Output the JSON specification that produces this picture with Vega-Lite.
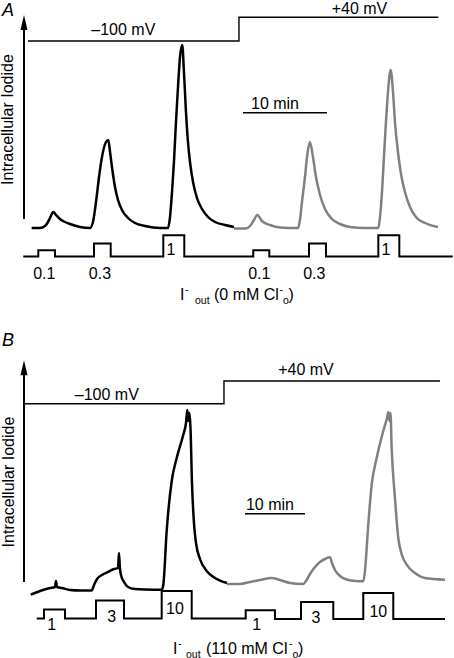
{
  "$schema": "https://vega.github.io/schema/vega-lite/v6.json",
  "padding": 0,
  "spacing": 0,
  "background": "white",
  "config": {"view": {"stroke": null}, "font": "Liberation Sans", "text": {"font": "Liberation Sans", "color": "black"}},
  "vconcat": [
    {
      "width": 454,
      "height": 329,
      "encoding": {
        "x": {"field": "t", "type": "quantitative", "scale": {"domain": [0, 54.05], "nice": false, "zero": false}, "axis": null},
        "y": {"field": "v", "type": "quantitative", "scale": {"domain": [0, 329], "nice": false, "zero": false}, "axis": null}
      },
      "layer": [
        {
          "data": {"values": [{"t": 2.857, "v": 112, "v2": 301}]},
          "mark": {"type": "rule", "color": "black", "strokeWidth": 2},
          "encoding": {"y2": {"field": "v2"}}
        },
        {
          "data": {"values": [{"t": 2.857, "v": 308.5}]},
          "mark": {"type": "point", "shape": "M0,-1L-0.47,1L0.47,1Z", "size": 225, "filled": true, "color": "black", "opacity": 1, "strokeWidth": 0},
          "encoding": {}
        },
        {
          "data": {"values": [{"t": 3.33, "v": 290}, {"t": 28.45, "v": 313.7}, {"t": 52.18, "v": 313.7}]},
          "mark": {"type": "line", "interpolate": "step-after", "color": "black", "strokeWidth": 1.4},
          "encoding": {}
        },
        {
          "data": {"values": [
            {"t": 2.77, "v": 74.5}, {"t": 4.56, "v": 80.7}, {"t": 6.55, "v": 74.5},
            {"t": 11.19, "v": 87.5}, {"t": 13.18, "v": 74.5}, {"t": 19.44, "v": 95.7},
            {"t": 21.94, "v": 74.5}, {"t": 30.15, "v": 80.7}, {"t": 32.06, "v": 74.5},
            {"t": 36.79, "v": 87.5}, {"t": 38.81, "v": 74.5}, {"t": 45.04, "v": 95.7},
            {"t": 47.54, "v": 74.5}, {"t": 53.9, "v": 74.5}
          ]},
          "mark": {"type": "line", "interpolate": "step-after", "color": "black", "strokeWidth": 2},
          "encoding": {}
        },
        {
          "data": {"values": [
            {"t": 3.77, "v": 103, "s": "-100 mV"}, {"t": 4.76, "v": 103, "s": "-100 mV"}, {"t": 5.36, "v": 105, "s": "-100 mV"},
            {"t": 5.71, "v": 109, "s": "-100 mV"}, {"t": 5.95, "v": 113, "s": "-100 mV"}, {"t": 6.35, "v": 119, "s": "-100 mV"},
            {"t": 6.67, "v": 116, "s": "-100 mV"}, {"t": 7.14, "v": 112, "s": "-100 mV"}, {"t": 7.74, "v": 109, "s": "-100 mV"},
            {"t": 8.33, "v": 107, "s": "-100 mV"}, {"t": 9.52, "v": 104, "s": "-100 mV"}, {"t": 10.71, "v": 103, "s": "-100 mV"},
            {"t": 11.07, "v": 109, "s": "-100 mV"}, {"t": 11.43, "v": 129, "s": "-100 mV"}, {"t": 11.79, "v": 154, "s": "-100 mV"},
            {"t": 12.14, "v": 174, "s": "-100 mV"}, {"t": 12.62, "v": 189, "s": "-100 mV"}, {"t": 12.89, "v": 191, "s": "-100 mV"},
            {"t": 13.1, "v": 179, "s": "-100 mV"}, {"t": 13.33, "v": 164, "s": "-100 mV"}, {"t": 13.69, "v": 144, "s": "-100 mV"},
            {"t": 14.05, "v": 131, "s": "-100 mV"}, {"t": 14.52, "v": 121, "s": "-100 mV"}, {"t": 15.24, "v": 113, "s": "-100 mV"},
            {"t": 16.07, "v": 108, "s": "-100 mV"}, {"t": 17.26, "v": 105, "s": "-100 mV"}, {"t": 19.05, "v": 103, "s": "-100 mV"},
            {"t": 20.0, "v": 103, "s": "-100 mV"}, {"t": 20.24, "v": 114, "s": "-100 mV"}, {"t": 20.48, "v": 139, "s": "-100 mV"},
            {"t": 20.71, "v": 169, "s": "-100 mV"}, {"t": 20.95, "v": 209, "s": "-100 mV"}, {"t": 21.19, "v": 244, "s": "-100 mV"},
            {"t": 21.43, "v": 274, "s": "-100 mV"}, {"t": 21.7, "v": 286, "s": "-100 mV"}, {"t": 21.9, "v": 259, "s": "-100 mV"},
            {"t": 22.14, "v": 219, "s": "-100 mV"}, {"t": 22.38, "v": 189, "s": "-100 mV"}, {"t": 22.62, "v": 169, "s": "-100 mV"},
            {"t": 22.98, "v": 149, "s": "-100 mV"}, {"t": 23.45, "v": 133, "s": "-100 mV"}, {"t": 24.05, "v": 122, "s": "-100 mV"},
            {"t": 24.76, "v": 114, "s": "-100 mV"}, {"t": 25.6, "v": 109, "s": "-100 mV"}, {"t": 26.79, "v": 106, "s": "-100 mV"},
            {"t": 27.86, "v": 104, "s": "-100 mV"},
            {"t": 27.86, "v": 102.5, "s": "+40 mV"}, {"t": 29.29, "v": 102.5, "s": "+40 mV"}, {"t": 29.76, "v": 105, "s": "+40 mV"},
            {"t": 30.24, "v": 111, "s": "+40 mV"}, {"t": 30.63, "v": 116, "s": "+40 mV"}, {"t": 31.19, "v": 110, "s": "+40 mV"},
            {"t": 32.14, "v": 106, "s": "+40 mV"}, {"t": 33.33, "v": 103.5, "s": "+40 mV"}, {"t": 35.48, "v": 103, "s": "+40 mV"},
            {"t": 35.71, "v": 111, "s": "+40 mV"}, {"t": 35.95, "v": 129, "s": "+40 mV"}, {"t": 36.31, "v": 154, "s": "+40 mV"},
            {"t": 36.55, "v": 174, "s": "+40 mV"}, {"t": 36.9, "v": 189, "s": "+40 mV"}, {"t": 37.26, "v": 174, "s": "+40 mV"},
            {"t": 37.62, "v": 154, "s": "+40 mV"}, {"t": 38.1, "v": 136, "s": "+40 mV"}, {"t": 38.69, "v": 122, "s": "+40 mV"},
            {"t": 39.52, "v": 112, "s": "+40 mV"}, {"t": 40.48, "v": 107, "s": "+40 mV"}, {"t": 41.67, "v": 104, "s": "+40 mV"},
            {"t": 43.45, "v": 103, "s": "+40 mV"}, {"t": 45.04, "v": 103, "s": "+40 mV"}, {"t": 45.24, "v": 114, "s": "+40 mV"},
            {"t": 45.48, "v": 139, "s": "+40 mV"}, {"t": 45.71, "v": 174, "s": "+40 mV"}, {"t": 45.95, "v": 209, "s": "+40 mV"},
            {"t": 46.19, "v": 239, "s": "+40 mV"}, {"t": 46.51, "v": 261, "s": "+40 mV"}, {"t": 46.79, "v": 239, "s": "+40 mV"},
            {"t": 47.02, "v": 209, "s": "+40 mV"}, {"t": 47.38, "v": 179, "s": "+40 mV"}, {"t": 47.74, "v": 157, "s": "+40 mV"},
            {"t": 48.21, "v": 139, "s": "+40 mV"}, {"t": 48.81, "v": 124, "s": "+40 mV"}, {"t": 49.52, "v": 114, "s": "+40 mV"},
            {"t": 50.6, "v": 108, "s": "+40 mV"}, {"t": 52.14, "v": 104, "s": "+40 mV"}
          ]},
          "mark": {"type": "line", "interpolate": "monotone", "strokeWidth": 2.5},
          "encoding": {"color": {"field": "s", "type": "nominal", "scale": {"domain": ["-100 mV", "+40 mV"], "range": ["#000000", "#808080"]}, "legend": null}}
        },
        {
          "data": {"values": [{"t": 28.93, "t2": 38.93, "v": 218.3}]},
          "mark": {"type": "rule", "color": "black", "strokeWidth": 1.5},
          "encoding": {"x2": {"field": "t2"}}
        },
        {
          "data": {"values": [
            {"t": 14.68, "v": 296, "label": "–100 mV"}, {"t": 42.8, "v": 317.3, "label": "+40 mV"},
            {"t": 32.74, "v": 221.7, "label": "10 min"},
            {"t": 5.27, "v": 52.3, "label": "0.1"}, {"t": 11.9, "v": 52.3, "label": "0.3"}, {"t": 20.36, "v": 75.7, "label": "1"},
            {"t": 30.87, "v": 52.3, "label": "0.1"}, {"t": 37.42, "v": 52.3, "label": "0.3"}, {"t": 45.95, "v": 75.7, "label": "1"}
          ]},
          "mark": {"type": "text", "fontSize": 16, "align": "center", "baseline": "alphabetic"},
          "encoding": {"text": {"field": "label"}}
        },
        {
          "data": {"values": [{"t": 0.24, "v": 315, "label": "A"}]},
          "mark": {"type": "text", "fontSize": 18, "fontStyle": "italic", "align": "left", "baseline": "alphabetic"},
          "encoding": {"text": {"field": "label"}}
        },
        {
          "data": {"values": [{"t": 1.01, "v": 211.5, "label": "Intracellular Iodide"}]},
          "mark": {"type": "text", "fontSize": 16, "angle": 270, "align": "center", "baseline": "middle"},
          "encoding": {"text": {"field": "label"}}
        },
        {
          "data": {"values": [{"t": 21.43, "v": 31, "label": "I"}, {"t": 25.48, "v": 31, "label": "(0 mM Cl"}, {"t": 34.35, "v": 31, "label": ")"}]},
          "mark": {"type": "text", "fontSize": 16, "align": "left", "baseline": "alphabetic"},
          "encoding": {"text": {"field": "label"}}
        },
        {
          "data": {"values": [{"t": 22.02, "v": 38, "label": "-"}, {"t": 33.27, "v": 38, "label": "-"}]},
          "mark": {"type": "text", "fontSize": 10.5, "align": "left", "baseline": "alphabetic"},
          "encoding": {"text": {"field": "label"}}
        },
        {
          "data": {"values": [{"t": 23.21, "v": 27, "label": "out"}, {"t": 33.69, "v": 27, "label": "o"}]},
          "mark": {"type": "text", "fontSize": 10.5, "align": "left", "baseline": "alphabetic"},
          "encoding": {"text": {"field": "label"}}
        }
      ]
    },
    {
      "width": 454,
      "height": 329,
      "encoding": {
        "x": {"field": "t", "type": "quantitative", "scale": {"domain": [0, 75.67], "nice": false, "zero": false}, "axis": null},
        "y": {"field": "v", "type": "quantitative", "scale": {"domain": [0, 329], "nice": false, "zero": false}, "axis": null}
      },
      "layer": [
        {
          "data": {"values": [{"t": 4.0, "v": 79, "v2": 286.3}]},
          "mark": {"type": "rule", "color": "black", "strokeWidth": 2},
          "encoding": {"y2": {"field": "v2"}}
        },
        {
          "data": {"values": [{"t": 4.0, "v": 293.2}]},
          "mark": {"type": "point", "shape": "M0,-1L-0.47,1L0.47,1Z", "size": 225, "filled": true, "color": "black", "opacity": 1, "strokeWidth": 0},
          "encoding": {}
        },
        {
          "data": {"values": [{"t": 4.0, "v": 257.3}, {"t": 37.33, "v": 280}, {"t": 73.33, "v": 280}]},
          "mark": {"type": "line", "interpolate": "step-after", "color": "black", "strokeWidth": 1.4},
          "encoding": {}
        },
        {
          "data": {"values": [
            {"t": 6.12, "v": 42.5}, {"t": 7.33, "v": 51.5}, {"t": 10.83, "v": 42.5},
            {"t": 16.0, "v": 60.5}, {"t": 20.67, "v": 42.5}, {"t": 26.95, "v": 70},
            {"t": 31.95, "v": 42.5}, {"t": 40.95, "v": 50.7}, {"t": 45.83, "v": 42},
            {"t": 50.17, "v": 59}, {"t": 55.55, "v": 42}, {"t": 60.55, "v": 68},
            {"t": 65.55, "v": 42}, {"t": 74.17, "v": 42}
          ]},
          "mark": {"type": "line", "interpolate": "step-after", "color": "black", "strokeWidth": 2},
          "encoding": {}
        },
        {
          "data": {"values": [
            {"t": 5.12, "v": 66.3, "s": "-100 mV"}, {"t": 6.67, "v": 70, "s": "-100 mV"}, {"t": 8.33, "v": 73, "s": "-100 mV"},
            {"t": 9.17, "v": 74, "s": "-100 mV"}, {"t": 9.33, "v": 80, "s": "-100 mV"}, {"t": 9.5, "v": 74, "s": "-100 mV"},
            {"t": 10.33, "v": 73, "s": "-100 mV"}, {"t": 11.67, "v": 71, "s": "-100 mV"}, {"t": 13.33, "v": 70.5, "s": "-100 mV"},
            {"t": 15.28, "v": 70.5, "s": "-100 mV"}, {"t": 15.67, "v": 76, "s": "-100 mV"}, {"t": 16.17, "v": 82, "s": "-100 mV"},
            {"t": 17.0, "v": 86, "s": "-100 mV"}, {"t": 18.0, "v": 89, "s": "-100 mV"}, {"t": 19.0, "v": 92, "s": "-100 mV"},
            {"t": 19.67, "v": 93, "s": "-100 mV"}, {"t": 19.83, "v": 108, "s": "-100 mV"}, {"t": 20.0, "v": 92, "s": "-100 mV"},
            {"t": 20.17, "v": 86, "s": "-100 mV"}, {"t": 20.67, "v": 79, "s": "-100 mV"}, {"t": 21.33, "v": 74, "s": "-100 mV"},
            {"t": 22.5, "v": 72, "s": "-100 mV"}, {"t": 24.17, "v": 71.5, "s": "-100 mV"}, {"t": 26.95, "v": 71.3, "s": "-100 mV"},
            {"t": 27.22, "v": 76.3, "s": "-100 mV"}, {"t": 27.78, "v": 130, "s": "-100 mV"}, {"t": 28.62, "v": 180, "s": "-100 mV"},
            {"t": 29.45, "v": 203, "s": "-100 mV"}, {"t": 30.55, "v": 226.3, "s": "-100 mV"}, {"t": 31.0, "v": 238, "s": "-100 mV"},
            {"t": 31.22, "v": 251, "s": "-100 mV"}, {"t": 31.38, "v": 240, "s": "-100 mV"}, {"t": 31.58, "v": 248, "s": "-100 mV"},
            {"t": 31.75, "v": 233, "s": "-100 mV"}, {"t": 32.0, "v": 178, "s": "-100 mV"}, {"t": 32.33, "v": 138, "s": "-100 mV"},
            {"t": 32.67, "v": 118, "s": "-100 mV"}, {"t": 33.33, "v": 102, "s": "-100 mV"}, {"t": 34.45, "v": 90, "s": "-100 mV"},
            {"t": 35.83, "v": 83, "s": "-100 mV"}, {"t": 37.83, "v": 78, "s": "-100 mV"},
            {"t": 37.83, "v": 77, "s": "+40 mV"}, {"t": 40.0, "v": 77, "s": "+40 mV"}, {"t": 41.67, "v": 79, "s": "+40 mV"},
            {"t": 43.33, "v": 81, "s": "+40 mV"}, {"t": 45.28, "v": 83, "s": "+40 mV"}, {"t": 46.67, "v": 81, "s": "+40 mV"},
            {"t": 48.33, "v": 78, "s": "+40 mV"}, {"t": 50.55, "v": 77, "s": "+40 mV"}, {"t": 51.0, "v": 80, "s": "+40 mV"},
            {"t": 51.67, "v": 87, "s": "+40 mV"}, {"t": 52.5, "v": 94, "s": "+40 mV"}, {"t": 53.33, "v": 99, "s": "+40 mV"},
            {"t": 54.17, "v": 102, "s": "+40 mV"}, {"t": 55.0, "v": 103.7, "s": "+40 mV"}, {"t": 55.33, "v": 98, "s": "+40 mV"},
            {"t": 55.83, "v": 91, "s": "+40 mV"}, {"t": 56.67, "v": 85, "s": "+40 mV"}, {"t": 57.5, "v": 82, "s": "+40 mV"},
            {"t": 59.17, "v": 80, "s": "+40 mV"}, {"t": 60.55, "v": 79.7, "s": "+40 mV"}, {"t": 60.83, "v": 90, "s": "+40 mV"},
            {"t": 61.38, "v": 136.3, "s": "+40 mV"}, {"t": 61.95, "v": 176.3, "s": "+40 mV"}, {"t": 62.78, "v": 203, "s": "+40 mV"},
            {"t": 63.88, "v": 230, "s": "+40 mV"}, {"t": 64.5, "v": 243, "s": "+40 mV"}, {"t": 64.72, "v": 249, "s": "+40 mV"},
            {"t": 64.92, "v": 240, "s": "+40 mV"}, {"t": 65.08, "v": 248, "s": "+40 mV"}, {"t": 65.28, "v": 213, "s": "+40 mV"},
            {"t": 65.83, "v": 163, "s": "+40 mV"}, {"t": 66.38, "v": 123, "s": "+40 mV"}, {"t": 67.0, "v": 106, "s": "+40 mV"},
            {"t": 67.78, "v": 96.3, "s": "+40 mV"}, {"t": 69.17, "v": 88, "s": "+40 mV"}, {"t": 70.83, "v": 83, "s": "+40 mV"},
            {"t": 74.17, "v": 81.3, "s": "+40 mV"}
          ]},
          "mark": {"type": "line", "interpolate": "monotone", "strokeWidth": 2.5},
          "encoding": {"color": {"field": "s", "type": "nominal", "scale": {"domain": ["-100 mV", "+40 mV"], "range": ["#000000", "#808080"]}, "legend": null}}
        },
        {
          "data": {"values": [{"t": 40.83, "t2": 50.83, "v": 147.3}]},
          "mark": {"type": "rule", "color": "black", "strokeWidth": 1.5},
          "encoding": {"x2": {"field": "t2"}}
        },
        {
          "data": {"values": [
            {"t": 17.8, "v": 261.5, "label": "–100 mV"}, {"t": 51.0, "v": 286, "label": "+40 mV"},
            {"t": 45.0, "v": 151.3, "label": "10 min"},
            {"t": 8.62, "v": 31, "label": "1"}, {"t": 18.6, "v": 39, "label": "3"}, {"t": 29.17, "v": 47, "label": "10"},
            {"t": 42.78, "v": 31, "label": "1"}, {"t": 52.67, "v": 38, "label": "3"}, {"t": 63.06, "v": 44, "label": "10"}
          ]},
          "mark": {"type": "text", "fontSize": 16, "align": "center", "baseline": "alphabetic"},
          "encoding": {"text": {"field": "label"}}
        },
        {
          "data": {"values": [{"t": 0.33, "v": 315, "label": "B"}]},
          "mark": {"type": "text", "fontSize": 18, "fontStyle": "italic", "align": "left", "baseline": "alphabetic"},
          "encoding": {"text": {"field": "label"}}
        },
        {
          "data": {"values": [{"t": 1.42, "v": 179, "label": "Intracellular Iodide"}]},
          "mark": {"type": "text", "fontSize": 16, "angle": 270, "align": "center", "baseline": "middle"},
          "encoding": {"text": {"field": "label"}}
        },
        {
          "data": {"values": [{"t": 28.83, "v": 7, "label": "I"}, {"t": 34.33, "v": 7, "label": "(110 mM Cl"}, {"t": 49.67, "v": 7, "label": ")"}]},
          "mark": {"type": "text", "fontSize": 16, "align": "left", "baseline": "alphabetic"},
          "encoding": {"text": {"field": "label"}}
        },
        {
          "data": {"values": [{"t": 29.67, "v": 14, "label": "-"}, {"t": 48.17, "v": 14, "label": "-"}]},
          "mark": {"type": "text", "fontSize": 10.5, "align": "left", "baseline": "alphabetic"},
          "encoding": {"text": {"field": "label"}}
        },
        {
          "data": {"values": [{"t": 31.0, "v": 3.5, "label": "out"}, {"t": 48.75, "v": 3.5, "label": "o"}]},
          "mark": {"type": "text", "fontSize": 10.5, "align": "left", "baseline": "alphabetic"},
          "encoding": {"text": {"field": "label"}}
        }
      ]
    }
  ]
}
